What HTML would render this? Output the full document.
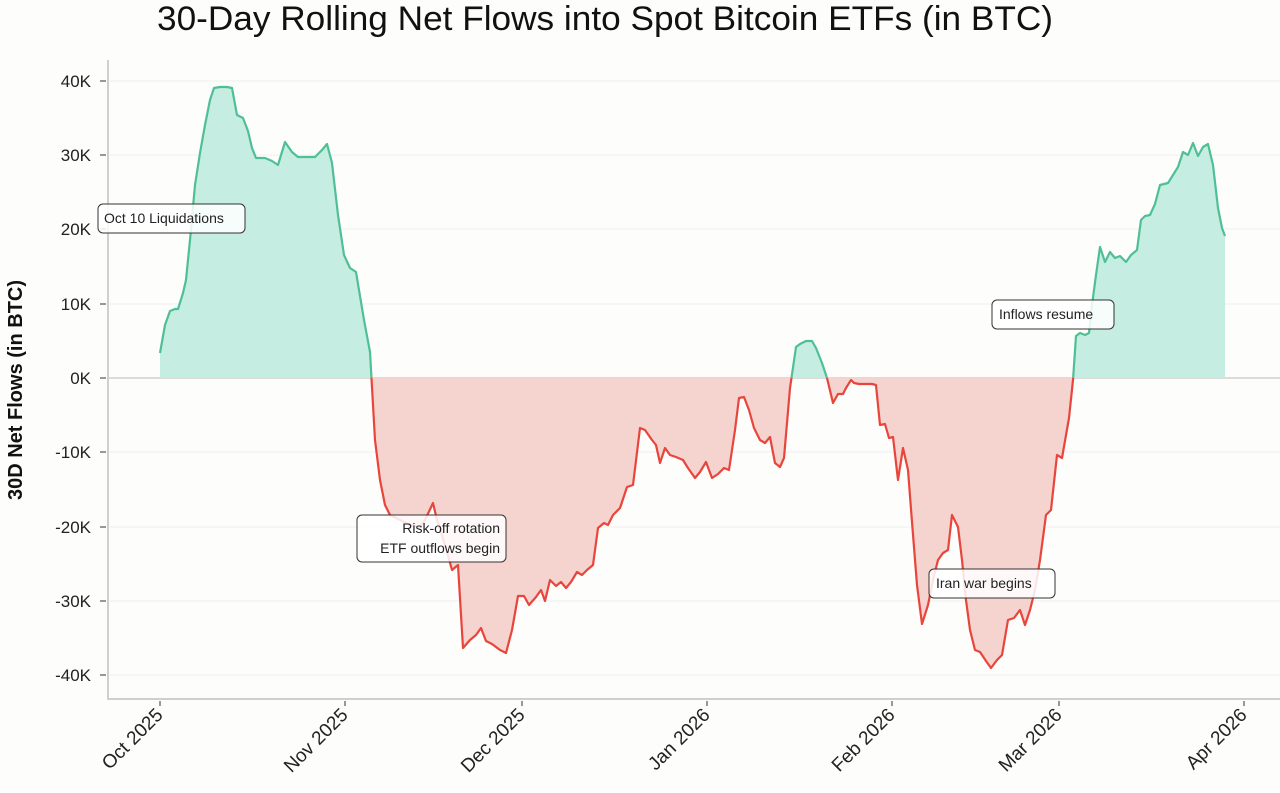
<!DOCTYPE html>
<html><head><meta charset="utf-8"><style>
body{margin:0;background:#fdfdfb;}
svg{display:block;font-family:"Liberation Sans",sans-serif;}
</style></head><body>
<svg width="1280" height="793" viewBox="0 0 1280 793">
<rect width="1280" height="793" fill="#fdfdfb"/>
<text x="605" y="30" font-size="34" text-anchor="middle" fill="#111" font-weight="500" textLength="896" lengthAdjust="spacingAndGlyphs">30-Day Rolling Net Flows into Spot Bitcoin ETFs (in BTC)</text>
<g stroke="#eeeeec" stroke-width="1">
<line x1="108" x2="1280" y1="81" y2="81"/><line x1="108" x2="1280" y1="155" y2="155"/><line x1="108" x2="1280" y1="229" y2="229"/><line x1="108" x2="1280" y1="304" y2="304"/><line x1="108" x2="1280" y1="452" y2="452"/><line x1="108" x2="1280" y1="527" y2="527"/><line x1="108" x2="1280" y1="601" y2="601"/><line x1="108" x2="1280" y1="675" y2="675"/>
</g>
<line x1="108" x2="1280" y1="378" y2="378" stroke="#d0d0d0" stroke-width="1.5"/>
<line x1="108" x2="108" y1="60" y2="700" stroke="#cfcfcf" stroke-width="2"/>
<line x1="107" x2="1280" y1="699" y2="699" stroke="#cfcfcf" stroke-width="2"/>
<g font-size="17" fill="#222" text-anchor="end">
<text x="91" y="87">40K</text><text x="91" y="161">30K</text><text x="91" y="235">20K</text><text x="91" y="310">10K</text><text x="91" y="384">0K</text><text x="91" y="458">-10K</text><text x="91" y="533">-20K</text><text x="91" y="607">-30K</text><text x="91" y="681">-40K</text>
</g>
<g stroke="#555" stroke-width="1.2">
<line x1="100" x2="106" y1="81" y2="81"/><line x1="100" x2="106" y1="155" y2="155"/><line x1="100" x2="106" y1="229" y2="229"/><line x1="100" x2="106" y1="304" y2="304"/><line x1="100" x2="106" y1="378" y2="378"/><line x1="100" x2="106" y1="452" y2="452"/><line x1="100" x2="106" y1="527" y2="527"/><line x1="100" x2="106" y1="601" y2="601"/><line x1="100" x2="106" y1="675" y2="675"/>
<line x1="160" x2="160" y1="701" y2="706"/><line x1="345" x2="345" y1="701" y2="706"/><line x1="522" x2="522" y1="701" y2="706"/><line x1="707" x2="707" y1="701" y2="706"/><line x1="892" x2="892" y1="701" y2="706"/><line x1="1059" x2="1059" y1="701" y2="706"/><line x1="1244" x2="1244" y1="701" y2="706"/>
</g>
<text transform="translate(22,390) rotate(-90)" font-size="20" text-anchor="middle" fill="#111" font-weight="bold">30D Net Flows (in BTC)</text>
<g font-size="19" fill="#222" text-anchor="end">
<text transform="translate(164,716) rotate(-45)">Oct 2025</text>
<text transform="translate(349,716) rotate(-45)">Nov 2025</text>
<text transform="translate(526,716) rotate(-45)">Dec 2025</text>
<text transform="translate(711,716) rotate(-45)">Jan 2026</text>
<text transform="translate(896,716) rotate(-45)">Feb 2026</text>
<text transform="translate(1063,716) rotate(-45)">Mar 2026</text>
<text transform="translate(1248,716) rotate(-45)">Apr 2026</text>
</g>
<defs>
<clipPath id="pos"><rect x="0" y="0" width="1280" height="378"/></clipPath>
<clipPath id="neg"><rect x="0" y="378" width="1280" height="415"/></clipPath>
<polygon id="poly" points="160,378 160,353 165,325 170,311 175,309 178,309 183,293 186,280 190,240 195,185 200,153 205,125 210,100 214,88 220,87 227,87 232,88 237,115 243,118 248,131 252,148 256,158 265,158 272,161 278,165 285,142 292,152 298,157 315,157 322,150 327,144 332,163 338,215 344,255 350,268 356,272 364,320 370,352 375,440 380,480 385,505 390,515 400,520 410,525 420,527 425,520 433,503 437,520 445,545 452,570 458,565 463,648 470,640 476,635 481,628 486,641 492,644 500,650 506,653 512,630 518,596 524,596 529,605 536,597 541,590 545,601 550,580 556,586 561,582 566,588 571,582 577,572 582,575 587,570 593,565 598,528 604,523 608,525 613,515 620,508 627,487 633,485 640,428 645,430 652,440 656,445 660,463 665,448 670,455 676,457 683,460 688,468 695,478 700,472 706,462 712,478 718,474 724,468 729,470 735,430 739,398 744,397 749,410 754,428 760,440 765,443 770,437 775,463 780,467 784,458 790,388 796,347 800,344 806,341 812,341 816,348 822,363 827,378 833,403 838,394 843,394 846,388 851,380 854,383 859,384 866,384 872,384 876,385 880,425 885,424 889,438 893,437 898,480 903,448 908,470 912,522 917,585 922,624 928,605 933,580 938,560 943,553 948,550 952,515 958,527 962,560 966,600 970,630 975,650 980,652 986,661 991,668 997,660 1002,655 1008,620 1014,618 1020,610 1025,625 1030,610 1035,590 1040,560 1046,515 1051,510 1057,455 1062,458 1069,418 1073,380 1076,336 1080,333 1085,335 1089,333 1092,305 1096,275 1100,247 1105,262 1110,252 1115,258 1120,256 1126,262 1131,255 1137,250 1141,220 1145,216 1150,215 1155,204 1160,185 1168,183 1173,175 1178,167 1183,152 1188,155 1193,143 1198,156 1203,147 1208,144 1213,165 1218,208 1222,228 1225,236 1225,378"/>
<polyline id="ln" points="160,353 165,325 170,311 175,309 178,309 183,293 186,280 190,240 195,185 200,153 205,125 210,100 214,88 220,87 227,87 232,88 237,115 243,118 248,131 252,148 256,158 265,158 272,161 278,165 285,142 292,152 298,157 315,157 322,150 327,144 332,163 338,215 344,255 350,268 356,272 364,320 370,352 375,440 380,480 385,505 390,515 400,520 410,525 420,527 425,520 433,503 437,520 445,545 452,570 458,565 463,648 470,640 476,635 481,628 486,641 492,644 500,650 506,653 512,630 518,596 524,596 529,605 536,597 541,590 545,601 550,580 556,586 561,582 566,588 571,582 577,572 582,575 587,570 593,565 598,528 604,523 608,525 613,515 620,508 627,487 633,485 640,428 645,430 652,440 656,445 660,463 665,448 670,455 676,457 683,460 688,468 695,478 700,472 706,462 712,478 718,474 724,468 729,470 735,430 739,398 744,397 749,410 754,428 760,440 765,443 770,437 775,463 780,467 784,458 790,388 796,347 800,344 806,341 812,341 816,348 822,363 827,378 833,403 838,394 843,394 846,388 851,380 854,383 859,384 866,384 872,384 876,385 880,425 885,424 889,438 893,437 898,480 903,448 908,470 912,522 917,585 922,624 928,605 933,580 938,560 943,553 948,550 952,515 958,527 962,560 966,600 970,630 975,650 980,652 986,661 991,668 997,660 1002,655 1008,620 1014,618 1020,610 1025,625 1030,610 1035,590 1040,560 1046,515 1051,510 1057,455 1062,458 1069,418 1073,380 1076,336 1080,333 1085,335 1089,333 1092,305 1096,275 1100,247 1105,262 1110,252 1115,258 1120,256 1126,262 1131,255 1137,250 1141,220 1145,216 1150,215 1155,204 1160,185 1168,183 1173,175 1178,167 1183,152 1188,155 1193,143 1198,156 1203,147 1208,144 1213,165 1218,208 1222,228 1225,236"/>
</defs>
<g clip-path="url(#pos)"><use href="#poly" fill="#c6ede2"/></g>
<g clip-path="url(#neg)"><use href="#poly" fill="#f5d3ce"/></g>
<g clip-path="url(#pos)"><use href="#ln" fill="none" stroke="#4fbf96" stroke-width="2.2" stroke-linejoin="round"/></g>
<g clip-path="url(#neg)"><use href="#ln" fill="none" stroke="#e8453c" stroke-width="2.2" stroke-linejoin="round"/></g>
<g font-size="14" fill="#222">
<rect x="98" y="204" width="147" height="29" rx="5" fill="#fff" fill-opacity="0.85" stroke="#333"/>
<text x="104" y="223">Oct 10 Liquidations</text>
<rect x="357" y="515" width="149" height="47" rx="5" fill="#fff" fill-opacity="0.85" stroke="#333"/>
<text x="500" y="533" text-anchor="end">Risk-off rotation</text>
<text x="500" y="553" text-anchor="end">ETF outflows begin</text>
<rect x="929" y="569" width="126" height="29" rx="5" fill="#fff" fill-opacity="0.85" stroke="#333"/>
<text x="936" y="588">Iran war begins</text>
<rect x="992" y="300" width="122" height="29" rx="5" fill="#fff" fill-opacity="0.85" stroke="#333"/>
<text x="999" y="319">Inflows resume</text>
</g>
</svg>
</body></html>
